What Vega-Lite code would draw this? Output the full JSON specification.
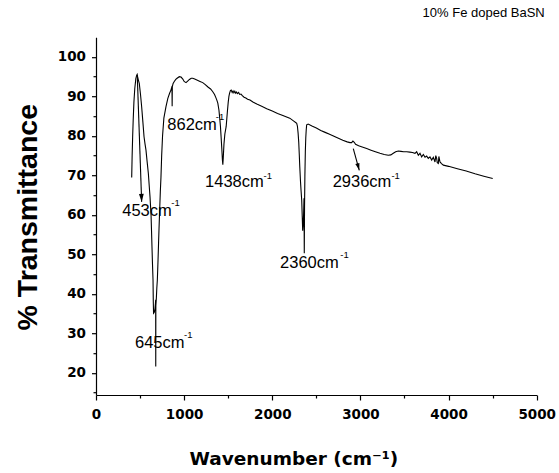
{
  "$schema": "https://vega.github.io/schema/vega-lite/v6.json",
  "width": 440.7,
  "height": 357.8,
  "autosize": {"type": "none"},
  "padding": {"left": 96, "top": 37.2, "right": 22.3, "bottom": 78},
  "background": "white",
  "config": {
    "view": {"stroke": null},
    "axis": {"grid": false, "domainColor": "black", "tickColor": "black", "labelColor": "black", "titleColor": "black", "domainWidth": 1.2, "tickWidth": 1.2}
  },
  "title": {"text": "10% Fe doped BaSN", "anchor": "end", "frame": "group", "font": "Liberation Sans", "fontSize": 13, "fontWeight": "normal", "color": "black", "offset": 4, "baseline": "bottom", "dx": 8},
  "datasets": {
    "spectrum": [
      {"wn":405,"t":69.5},{"wn":410,"t":75},{"wn":416,"t":80},{"wn":422,"t":84},{"wn":430,"t":88.5},{"wn":440,"t":92},{"wn":452,"t":94.5},{"wn":462,"t":95.4},{"wn":467,"t":95.6},{"wn":472,"t":95},{"wn":480,"t":94.2},{"wn":491,"t":93.3},{"wn":505,"t":90.5},{"wn":518,"t":87.4},{"wn":532,"t":83.5},{"wn":545,"t":79.8},{"wn":556,"t":78},{"wn":567,"t":76.4},{"wn":580,"t":73.5},{"wn":594,"t":70.5},{"wn":605,"t":67},{"wn":613,"t":64.5},{"wn":618,"t":62.5},{"wn":624,"t":60.4},{"wn":630,"t":56},{"wn":635,"t":52},{"wn":641,"t":47.5},{"wn":647,"t":43.5},{"wn":650,"t":38},{"wn":653,"t":35.1},{"wn":660,"t":35.3},{"wn":668,"t":36},{"wn":674,"t":37.5},{"wn":677,"t":38.5},{"wn":678,"t":21.6},{"wn":679,"t":37},{"wn":685,"t":39},{"wn":690,"t":41.5},{"wn":696,"t":43.5},{"wn":703,"t":48},{"wn":710,"t":53},{"wn":715,"t":56.5},{"wn":722,"t":61},{"wn":730,"t":66},{"wn":737,"t":69.5},{"wn":745,"t":75},{"wn":755,"t":80},{"wn":770,"t":84.5},{"wn":794,"t":87.4},{"wn":815,"t":89.5},{"wn":835,"t":90.8},{"wn":850,"t":91.6},{"wn":858,"t":92.2},{"wn":862,"t":91.8},{"wn":864,"t":87.5},{"wn":866,"t":92.5},{"wn":875,"t":93.3},{"wn":888,"t":93.8},{"wn":905,"t":94.3},{"wn":920,"t":94.6},{"wn":945,"t":95.0},{"wn":965,"t":94.9},{"wn":985,"t":94.4},{"wn":1000,"t":93.8},{"wn":1021,"t":93.5},{"wn":1040,"t":93.9},{"wn":1060,"t":94.3},{"wn":1080,"t":94.6},{"wn":1097,"t":94.6},{"wn":1120,"t":94.4},{"wn":1150,"t":94.1},{"wn":1180,"t":93.8},{"wn":1211,"t":93.5},{"wn":1240,"t":93.0},{"wn":1270,"t":92.4},{"wn":1300,"t":91.9},{"wn":1325,"t":91.2},{"wn":1345,"t":90.5},{"wn":1360,"t":89.7},{"wn":1372,"t":89.0},{"wn":1382,"t":88.3},{"wn":1395,"t":86.5},{"wn":1405,"t":84.2},{"wn":1412,"t":82.4},{"wn":1420,"t":79.5},{"wn":1428,"t":76.5},{"wn":1434,"t":74},{"wn":1439,"t":72.7},{"wn":1444,"t":74.5},{"wn":1452,"t":78},{"wn":1462,"t":80.5},{"wn":1477,"t":82.4},{"wn":1490,"t":86},{"wn":1500,"t":88.5},{"wn":1508,"t":90},{"wn":1515,"t":90.8},{"wn":1525,"t":91.5},{"wn":1534,"t":91.6},{"wn":1545,"t":91.0},{"wn":1555,"t":91.4},{"wn":1565,"t":90.9},{"wn":1575,"t":91.3},{"wn":1585,"t":90.8},{"wn":1595,"t":91.1},{"wn":1605,"t":90.7},{"wn":1618,"t":91.0},{"wn":1630,"t":90.5},{"wn":1645,"t":90.6},{"wn":1660,"t":90.2},{"wn":1680,"t":89.8},{"wn":1700,"t":89.6},{"wn":1720,"t":89.3},{"wn":1747,"t":89.1},{"wn":1780,"t":88.6},{"wn":1830,"t":88.0},{"wn":1880,"t":87.5},{"wn":1937,"t":86.9},{"wn":2000,"t":86.3},{"wn":2060,"t":85.7},{"wn":2120,"t":85.2},{"wn":2198,"t":84.5},{"wn":2240,"t":83.8},{"wn":2265,"t":83.4},{"wn":2277,"t":83.2},{"wn":2285,"t":82.5},{"wn":2293,"t":80.7},{"wn":2300,"t":78.5},{"wn":2306,"t":75.5},{"wn":2312,"t":72.2},{"wn":2320,"t":68.5},{"wn":2327,"t":66},{"wn":2334,"t":63.7},{"wn":2340,"t":59.5},{"wn":2345,"t":56},{"wn":2350,"t":57.5},{"wn":2355,"t":60},{"wn":2360,"t":64.2},{"wn":2363,"t":50.3},{"wn":2366,"t":62},{"wn":2370,"t":70},{"wn":2375,"t":76},{"wn":2380,"t":79.5},{"wn":2385,"t":81.5},{"wn":2390,"t":82.8},{"wn":2407,"t":83.0},{"wn":2450,"t":82.5},{"wn":2500,"t":82.0},{"wn":2550,"t":81.4},{"wn":2600,"t":80.9},{"wn":2650,"t":80.4},{"wn":2700,"t":79.9},{"wn":2750,"t":79.4},{"wn":2800,"t":78.9},{"wn":2850,"t":78.5},{"wn":2882,"t":78.3},{"wn":2900,"t":78.3},{"wn":2915,"t":78.7},{"wn":2930,"t":78.4},{"wn":2945,"t":77.9},{"wn":2980,"t":77.5},{"wn":3020,"t":77.2},{"wn":3071,"t":76.8},{"wn":3120,"t":76.4},{"wn":3170,"t":76.0},{"wn":3222,"t":75.6},{"wn":3270,"t":75.3},{"wn":3316,"t":75.1},{"wn":3345,"t":75.2},{"wn":3373,"t":75.6},{"wn":3400,"t":76.0},{"wn":3430,"t":76.2},{"wn":3460,"t":76.1},{"wn":3490,"t":76.0},{"wn":3525,"t":76.0},{"wn":3560,"t":75.9},{"wn":3590,"t":75.8},{"wn":3619,"t":75.6},{"wn":3638,"t":76.0},{"wn":3657,"t":75.1},{"wn":3676,"t":75.6},{"wn":3695,"t":74.7},{"wn":3714,"t":75.3},{"wn":3733,"t":74.6},{"wn":3752,"t":74.9},{"wn":3770,"t":74.3},{"wn":3789,"t":74.7},{"wn":3809,"t":73.9},{"wn":3827,"t":74.6},{"wn":3846,"t":73.4},{"wn":3855,"t":75.0},{"wn":3865,"t":74.3},{"wn":3872,"t":73.2},{"wn":3884,"t":73.0},{"wn":3890,"t":74.8},{"wn":3903,"t":73.4},{"wn":3920,"t":73.0},{"wn":3941,"t":72.6},{"wn":4000,"t":72.3},{"wn":4100,"t":71.7},{"wn":4200,"t":71.1},{"wn":4300,"t":70.4},{"wn":4400,"t":69.8},{"wn":4501,"t":69.2}
    ],
    "labels": [
      {"wn":298,"t":59.7,"txt":"453cm","kind":"main"},{"wn":855,"t":62.2,"txt":"-1","kind":"sup"},
      {"wn":442,"t":26.3,"txt":"645cm","kind":"main"},{"wn":998,"t":28.9,"txt":"-1","kind":"sup"},
      {"wn":809,"t":81.5,"txt":"862cm","kind":"main"},{"wn":1360,"t":84.0,"txt":"-1","kind":"sup"},
      {"wn":1237,"t":67.1,"txt":"1438cm","kind":"main"},{"wn":1900,"t":69.2,"txt":"-1","kind":"sup"},
      {"wn":2088,"t":46.5,"txt":"2360cm","kind":"main"},{"wn":2772,"t":49.0,"txt":"-1","kind":"sup"},
      {"wn":2685,"t":67.0,"txt":"2936cm","kind":"main"},{"wn":3352,"t":69.2,"txt":"-1","kind":"sup"}
    ],
    "arrows": [
      {"wn":468,"t":95.4,"wn2":518,"t2":63.3,"id":"a"},
      {"wn":2919,"t":76.8,"wn2":2987,"t2":71.3,"id":"b"}
    ],
    "heads": [
      {"wn":518,"t":63.3,"id":"a"},
      {"wn":2987,"t":71.3,"id":"b"}
    ]
  },
  "encoding": {
    "x": {
      "field": "wn", "type": "quantitative",
      "scale": {"domain": [0, 5000], "nice": false, "zero": false},
      "axis": {
        "values": [0,500,1000,1500,2000,2500,3000,3500,4000,4500,5000],
        "format": "d",
        "labelExpr": "datum.value % 1000 === 0 ? datum.label : ''",
        "tickSize": {"condition": {"test": "datum.value % 1000 === 0", "value": 5}, "value": 3},
        "labelFont": "DejaVu Sans", "labelFontWeight": "bold", "labelFontSize": 13.5, "labelPadding": 7,
        "labelOverlap": false, "labelFlush": false,
        "title": "Wavenumber (cm⁻¹)",
        "titleFont": "DejaVu Sans", "titleFontWeight": "bold", "titleFontSize": 18.5,
        "titleAnchor": "start", "titleAlign": "left", "titleX": 93, "titleY": 69, "titleBaseline": "alphabetic"
      }
    },
    "y": {
      "field": "t", "type": "quantitative",
      "scale": {"domain": [14.4, 105], "nice": false, "zero": false},
      "axis": {
        "values": [15,20,25,30,35,40,45,50,55,60,65,70,75,80,85,90,95,100],
        "format": "d",
        "labelExpr": "datum.value % 10 === 0 ? datum.label : ''",
        "tickSize": {"condition": {"test": "datum.value % 10 === 0", "value": 4.5}, "value": 3},
        "labelFont": "DejaVu Sans", "labelFontWeight": "bold", "labelFontSize": 13.5, "labelPadding": 6,
        "labelOverlap": false, "labelFlush": false,
        "title": "% Transmittance",
        "titleFont": "Liberation Sans", "titleFontWeight": "bold", "titleFontSize": 28.5,
        "titleAngle": -90, "titleX": -60, "titleY": 179.5, "titleAlign": "center", "titleBaseline": "alphabetic"
      }
    }
  },
  "layer": [
    {
      "data": {"name": "spectrum"},
      "mark": {"type": "line", "color": "black", "strokeWidth": 1.1, "interpolate": "linear"}
    },
    {
      "data": {"name": "arrows"},
      "mark": {"type": "rule", "color": "black", "strokeWidth": 1.1},
      "encoding": {"x2": {"field": "wn2"}, "y2": {"field": "t2"}}
    },
    {
      "data": {"name": "heads"},
      "transform": [{"filter": "datum.id === 'a'"}],
      "mark": {"type": "point", "shape": "M0,0L-0.3,-1L0.3,-1Z", "filled": true, "color": "black", "opacity": 1, "size": 256, "angle": -2, "strokeWidth": 0}
    },
    {
      "data": {"name": "heads"},
      "transform": [{"filter": "datum.id === 'b'"}],
      "mark": {"type": "point", "shape": "M0,0L-0.3,-1L0.3,-1Z", "filled": true, "color": "black", "opacity": 1, "size": 200, "angle": -15.5, "strokeWidth": 0}
    },
    {
      "data": {"name": "labels"},
      "transform": [{"filter": "datum.kind === 'main'"}],
      "mark": {"type": "text", "align": "left", "baseline": "alphabetic", "font": "Liberation Sans", "fontSize": 16.5, "color": "black"},
      "encoding": {"text": {"field": "txt"}}
    },
    {
      "data": {"name": "labels"},
      "transform": [{"filter": "datum.kind === 'sup'"}],
      "mark": {"type": "text", "align": "left", "baseline": "alphabetic", "font": "Liberation Sans", "fontSize": 9.5, "color": "black"},
      "encoding": {"text": {"field": "txt"}}
    }
  ]
}
